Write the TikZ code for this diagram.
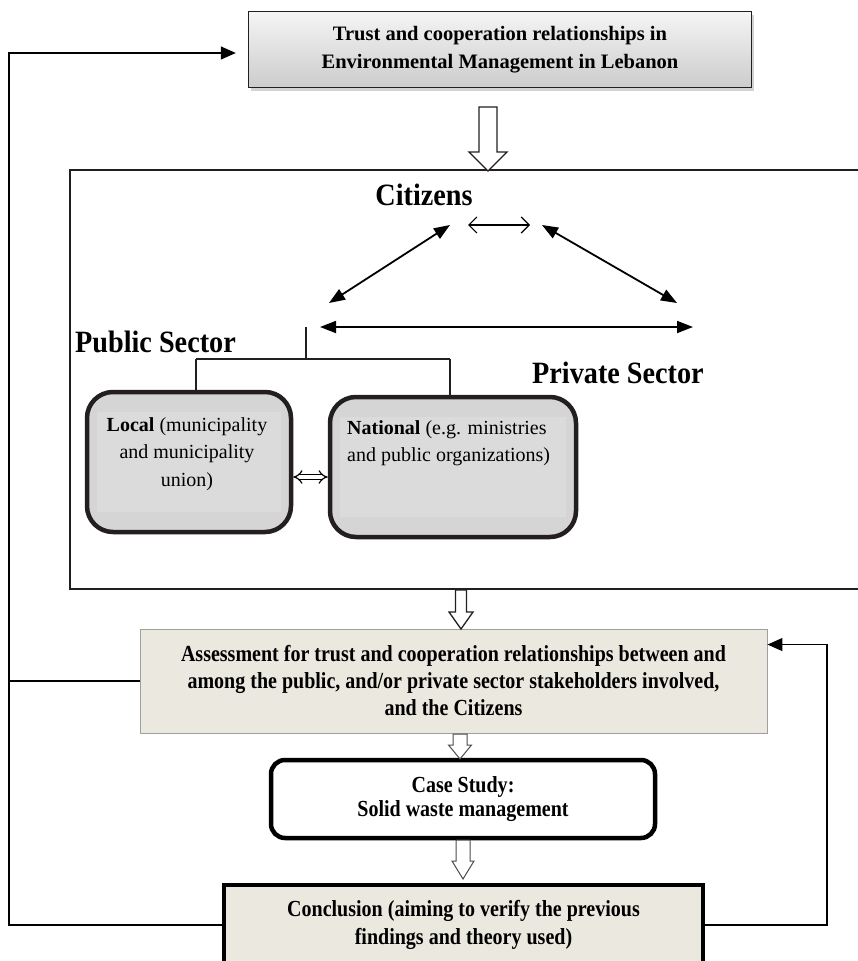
\documentclass[tikz,border=0pt]{standalone}
\usepackage{fontspec}
\setmainfont{Liberation Serif}
\newfontfamily\condfont[FakeStretch=0.87]{Liberation Serif}
\newfontfamily\headfont[FakeStretch=0.91]{Liberation Serif}
\usetikzlibrary{arrows.meta,calc,shadows}
\definecolor{beige}{HTML}{EBE8DF}
\definecolor{boxgray}{HTML}{D5D5D5}
\definecolor{innergray}{HTML}{DBDBDB}
\definecolor{ink}{HTML}{231F20}

% hollow block arrow pointing down: style, start, tip, shaft half width, head half width, head length
\newcommand\hollowarrow[6]{%
  \draw[#1] ($(#2)+(-#4,0)$) -- ($(#3)+(-#4,-#6)$) -- ($(#3)+(-#5,-#6)$) -- (#3)
    -- ($(#3)+(#5,-#6)$) -- ($(#3)+(#4,-#6)$) -- ($(#2)+(#4,0)$) -- cycle;}

\begin{document}
\begin{tikzpicture}[x=1pt,y=-1pt,
  titlebox/.style={draw=ink, line width=1.4pt, top color=gray!8, bottom color=gray!40,
    minimum width=503pt, minimum height=76pt, inner sep=0pt, align=center,
    font=\bfseries\fontsize{20.5}{28}\selectfont,
    drop shadow={shadow xshift=2pt, shadow yshift=-3pt, opacity=0.35}},
  sectorlabel/.style={font=\headfont\bfseries\fontsize{31}{36}\selectfont, inner sep=0pt},
  pubbox/.style={draw=ink, line width=4.5pt, rounded corners=26pt, fill=boxgray,
    minimum height=140pt, inner sep=0pt,
    path picture={\fill[innergray, sharp corners]
      ($(path picture bounding box.north west)+(10pt,-20pt)$)
      rectangle ($(path picture bounding box.south east)+(-10pt,20pt)$);}},
  pubtext/.style={font=\fontsize{20}{27.5}\selectfont, inner sep=0pt},
  assessbox/.style={draw=gray!75, line width=0.9pt, fill=beige, minimum width=627pt,
    minimum height=104pt, inner sep=0pt, align=center,
    font=\condfont\bfseries\fontsize{23}{27}\selectfont},
  casebox/.style={draw=black, line width=4.5pt, rounded corners=14pt, fill=white,
    minimum width=384pt, minimum height=78pt, inner sep=0pt, align=center,
    font=\condfont\bfseries\fontsize{23}{24.5}\selectfont},
  conclbox/.style={draw=black, line width=4.5pt, fill=beige, minimum width=479pt,
    minimum height=80pt, inner sep=0pt, align=center,
    font=\condfont\bfseries\fontsize{23}{28}\selectfont},
  feedback/.style={line width=1.3pt, -{Triangle[length=15pt,width=13pt]}},
  rel/.style={line width=1.8pt, {Triangle[length=16pt,width=12pt]}-{Triangle[length=16pt,width=12pt]}},
  mutual/.style={line width=1.2pt, {Straight Barb[length=8pt,width=16pt]}-{Straight Barb[length=8pt,width=16pt]}},
  tree/.style={line width=1.4pt, draw=ink},
  framebar/.style={line width=2.2pt, draw=ink},
  hollowbig/.style={draw=ink, line width=1.3pt, fill=white},
  hollowsmall/.style={draw=gray!60!black, line width=1pt, fill=white}]

\useasboundingbox (0,0) rectangle (858,961);
\clip (0,0) rectangle (858,961);

% title
\node[titlebox] (title) at (500,49.5)
  {Trust and cooperation relationships in\\Environmental Management in Lebanon};

% open frame around the stakeholder triangle
\draw[framebar] (870,170) -- (70,170) -- (70,589) -- (870,589);

\coordinate (a1s) at (488,107);
\coordinate (a1t) at (488,171);
\hollowarrow{hollowbig}{a1s}{a1t}{9}{19}{19}

% stakeholders
\node[sectorlabel, anchor=base] (citizens) at (424,205) {Citizens};
\node[sectorlabel, anchor=base west] (public) at (75,352) {Public Sector};
\node[sectorlabel, anchor=base west] (private) at (532,383) {Private Sector};

\coordinate (cmL) at (468,225);
\coordinate (cmR) at (530,225);
\draw[mutual] (cmL) -- (cmR);

\coordinate (cL) at (450,225);
\coordinate (pubTip) at (329,303);
\coordinate (cR) at (542,225);
\coordinate (privTip) at (677,303);
\coordinate (hL) at (320,327);
\coordinate (hR) at (693,327);
\draw[rel] (cL) -- (pubTip);
\draw[rel] (cR) -- (privTip);
\draw[rel] (hL) -- (hR);

% public sector branches
\node[pubbox, minimum width=204pt] (local) at (189,462) {};
\node[pubbox, minimum width=246pt] (national) at (453,467) {};
\node[pubtext, align=center] (localtxt) at (187,454)
  {\textbf{Local} (municipality\\and municipality\\union)};
\node[pubtext, align=left, anchor=west] (nationaltxt) at (347,443)
  {\textbf{National} (e.g. ministries\\and public organizations)};

\coordinate (stemTop) at (306,327);
\coordinate (stemBot) at (306,359);
\coordinate (branchL) at (196,359);
\coordinate (branchR) at (450,359);
\draw[tree] (stemTop) -- (stemBot);
\draw[tree] (branchL) -- (branchR);
\draw[tree] (branchL) -- (branchL |- local.north);
\draw[tree] (branchR) -- (branchR |- national.north);

\coordinate (lnrow) at (0,477);
\draw[double=white, double distance=3.5pt, line width=1.2pt, {Implies}-{Implies}]
  (local.east |- lnrow) -- (national.west |- lnrow);

% lower chain
\node[assessbox] (assess) at (453.5,681)
  {Assessment for trust and cooperation relationships between and\\
   among the public, and/or private sector stakeholders involved,\\
   and the Citizens};
\node[casebox] (case) at (463,799) {Case Study:\\Solid waste management};
\node[conclbox] (concl) at (463.5,925)
  {Conclusion (aiming to verify the previous\\findings and theory used)};

\coordinate (a2s) at (461,590);
\coordinate (a2t) at (461,629);
\hollowarrow{hollowbig}{a2s}{a2t}{5.5}{12}{17}
\coordinate (a3s) at (460,734);
\coordinate (a3t) at (460,759);
\hollowarrow{hollowsmall}{a3s}{a3t}{7}{11.5}{14}
\coordinate (a4s) at (463,840);
\coordinate (a4t) at (463,879);
\hollowarrow{hollowsmall}{a4s}{a4t}{7}{11}{18}

% feedback loops
\coordinate (lx) at (9,0);
\coordinate (rx) at (827,0);
\coordinate (titleIn) at ($(title.west)+(0,3.5)$);
\coordinate (assessIn) at ($(assess.north east)+(0,16)$);
\draw[feedback, shorten >=12pt] (concl.west) -- (concl.west -| lx) |- (titleIn);
\draw[line width=1.3pt] (assess.west) -- (assess.west -| lx);
\draw[feedback] (concl.east) -- (concl.east -| rx) |- (assessIn);
\end{tikzpicture}
\end{document}
